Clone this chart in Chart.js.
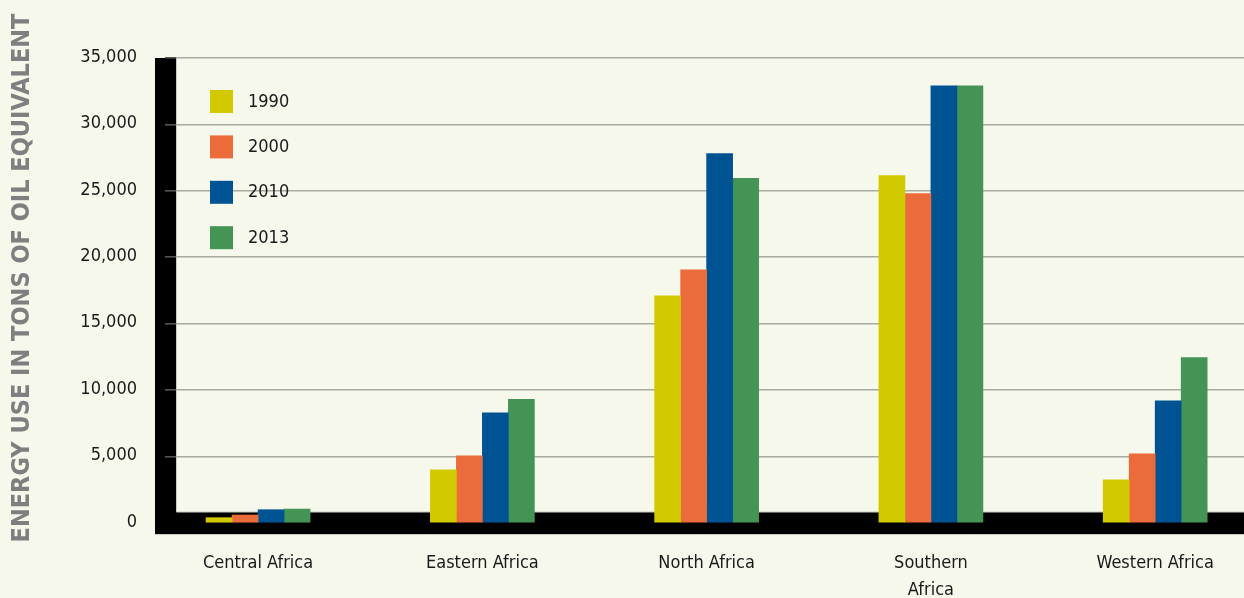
<!DOCTYPE html>
<html>
<head>
<meta charset="utf-8">
<script src="https://cdn.jsdelivr.net/npm/chart.js@4.4.1/dist/chart.umd.min.js"></script>
<style>
  html, body { margin: 0; padding: 0; background: #f6f8ec; }
  #wrap { width: 1244px; height: 598px; position: relative; }
</style>
</head>
<body>
<div id="wrap"><canvas id="c" width="1244" height="598"></canvas></div>
<script>
const categories = ['Central Africa', 'Eastern Africa', 'North Africa', ['Southern', 'Africa'], 'Western Africa'];
const seriesLabels = ['1990', '2000', '2010', '2013'];
const values1990 = [400, 4000, 17100, 26150, 3250];
const values2000 = [600, 5050, 19050, 24800, 5200];
const values2010 = [1000, 8300, 27800, 32900, 9200];
const values2013 = [1050, 9300, 25950, 32900, 12450];
const seriesColors = ['#d2ca00', '#ec6b3b', '#005393', '#449455'];
const yTicks = [0, 5000, 10000, 15000, 20000, 25000, 30000, 35000];
const axisTitle = 'ENERGY USE IN TONS OF OIL EQUIVALENT';

const NARROW = '"Liberation Sans Narrow", "DejaVu Sans Condensed", "Arial Narrow", sans-serif';
const allValues = [values1990, values2000, values2010, values2013];

const datasets = allValues.map((vals, i) => ({
  label: seriesLabels[i],
  data: vals.map((v, j) => ({ x: j, y: v })),
  backgroundColor: seriesColors[i],
  borderWidth: 0,
  barThickness: 26
}));

const frameplugin = {
  id: 'frame',
  beforeDraw(chart) {
    const ctx = chart.ctx;
    const a = chart.chartArea;
    ctx.save();
    ctx.fillStyle = '#f6f8ec';
    ctx.fillRect(0, 0, chart.width, chart.height);
    // black wall and floor
    ctx.fillStyle = '#000';
    ctx.fillRect(a.left - 21, a.top, 21, a.bottom + 11 - a.top);
    ctx.fillRect(a.left - 21, a.bottom - 11, a.right - a.left + 21, 22);
    // light edges
    ctx.strokeStyle = '#c9cabd';
    ctx.lineWidth = 1;
    ctx.beginPath();
    ctx.moveTo(a.left + 0.5, a.top);
    ctx.lineTo(a.left + 0.5, a.bottom - 11);
    ctx.lineTo(a.right, a.bottom - 11);
    ctx.moveTo(a.left - 21, a.bottom + 11.5);
    ctx.lineTo(a.right, a.bottom + 11.5);
    ctx.stroke();
    ctx.restore();
  },
  afterDatasetsDraw(chart) {
    const ctx = chart.ctx;
    const a = chart.chartArea;
    ctx.save();
    // legend
    chart.data.datasets.forEach((ds, i) => {
      const y = a.top + 32 + i * 45.4;
      ctx.fillStyle = ds.backgroundColor;
      ctx.fillRect(a.left + 34, y, 23, 23);
      ctx.fillStyle = '#1a1a1a';
      ctx.font = '18px ' + NARROW;
      ctx.textBaseline = 'middle';
      ctx.textAlign = 'left';
      ctx.fillText(ds.label, a.left + 72, y + 12);
    });
    // vertical axis title
    ctx.translate(22, 278);
    ctx.rotate(-Math.PI / 2);
    ctx.fillStyle = '#7f7f7f';
    ctx.font = 'bold 25px "DejaVu Sans Condensed", "DejaVu Sans", sans-serif';
    ctx.textAlign = 'center';
    ctx.textBaseline = 'middle';
    ctx.fillText(axisTitle, 0, 0);
    ctx.restore();
  }
};

new Chart(document.getElementById('c'), {
  type: 'bar',
  data: { datasets },
  options: {
    responsive: false,
    animation: false,
    layout: { padding: { top: 58, right: 0, left: 0, bottom: 0 } },
    plugins: { legend: { display: false }, tooltip: { enabled: false } },
    scales: {
      x: {
        type: 'linear',
        offset: false,
        min: -0.366,
        max: 4.396,
        afterBuildTicks(scale) { scale.ticks = categories.map((c, i) => ({ value: i })); },
        afterFit(scale) { scale.height = 75; },
        grid: { display: false, drawTicks: false, offset: false },
        border: { display: false },
        ticks: {
          autoSkip: false,
          maxRotation: 0,
          padding: 27,
          color: '#1a1a1a',
          font: { family: NARROW, size: 18, lineHeight: 1.5 },
          callback: (v) => categories[v]
        }
      },
      y: {
        min: 0,
        max: 35000,
        afterBuildTicks(scale) { scale.ticks = yTicks.map(v => ({ value: v })); },
        afterFit(scale) { scale.width = 176; },
        border: { display: false },
        grid: {
          color: (c) => (c.tick && c.tick.value === 0) ? 'rgba(0,0,0,0)' : '#a9aaa0',
          tickColor: (c) => (c.tick && c.tick.value === 0) ? 'rgba(0,0,0,0)' : '#555',
          lineWidth: 1.6,
          tickLength: 11
        },
        ticks: {
          padding: 28,
          labelOffset: -1,
          color: '#1a1a1a',
          font: { family: NARROW, size: 18 },
          callback: (v) => v.toLocaleString('en-US')
        }
      }
    }
  },
  plugins: [frameplugin]
});
</script>
</body>
</html>
